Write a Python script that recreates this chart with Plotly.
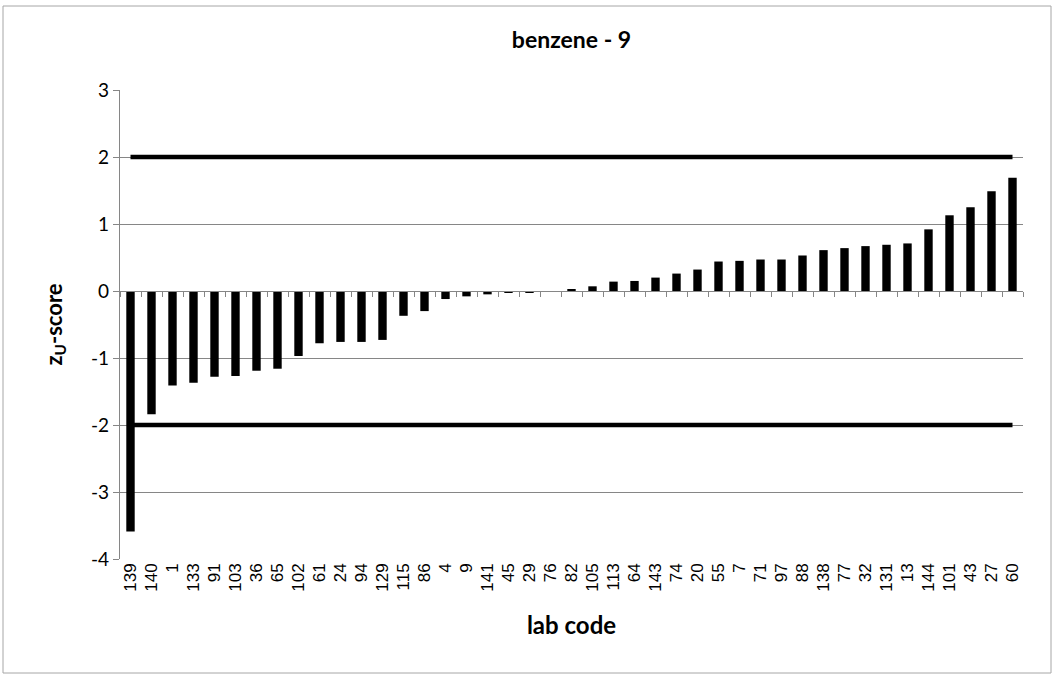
import plotly.graph_objects as go

lab_codes = ["139", "140", "1", "133", "91", "103", "36", "65", "102", "61", "24", "94",
             "129", "115", "86", "4", "9", "141", "45", "29", "76", "82", "105", "113",
             "64", "143", "74", "20", "55", "7", "71", "97", "88", "138", "77", "32",
             "131", "13", "144", "101", "43", "27", "60"]
z_scores = [-3.59, -1.84, -1.41, -1.37, -1.28, -1.27, -1.19, -1.16, -0.97, -0.78, -0.76, -0.76,
            -0.73, -0.37, -0.30, -0.12, -0.08, -0.05, -0.03, -0.02, -0.01, 0.03, 0.07, 0.14,
            0.15, 0.20, 0.26, 0.32, 0.44, 0.45, 0.47, 0.47, 0.53, 0.61, 0.64, 0.67,
            0.69, 0.71, 0.92, 1.13, 1.25, 1.49, 1.69]
upper_limit = 2
lower_limit = -2
y_ticks = [-4, -3, -2, -1, 0, 1, 2, 3]
y_tick_labels = ["-4", "-3", "-2", "-1", "0", "1", "2", "3"]

GRAY = "#868686"
FONT = "Lato"

fig = go.Figure()
fig.add_trace(go.Bar(x=lab_codes, y=z_scores, marker=dict(color="black", line=dict(width=0)),
                     width=0.4, xaxis="x", yaxis="y", showlegend=False))
for lim in (upper_limit, lower_limit):
    fig.add_trace(go.Scatter(x=lab_codes, y=[lim] * len(lab_codes), mode="lines",
                             line=dict(color="black", width=4.5), xaxis="x2", yaxis="y",
                             showlegend=False, hoverinfo="skip"))

n = len(lab_codes)
fig.update_layout(
    width=1055, height=675,
    paper_bgcolor="white", plot_bgcolor="white",
    margin=dict(l=120, r=32, t=90, b=116),
    title=dict(text="<b>benzene - 9</b>", x=0.5, xref="paper", y=1 - 40 / 675, yanchor="middle",
               font=dict(family=FONT, size=23, color="black")),
    xaxis=dict(type="category", range=[-0.5, n - 0.5], showgrid=False, showline=False,
               ticks="", tickangle=-90, tickfont=dict(family="Liberation Sans", size=17, color="black"),
               title=dict(text="<b>lab code</b>", font=dict(family=FONT, size=24, color="black"),
                          standoff=26)),
    xaxis2=dict(type="category", range=[-0.5, n - 0.5], overlaying="x", anchor="free",
                position=4 / 7, showgrid=False, showline=True, linecolor=GRAY, linewidth=1.3,
                ticks="outside", tickson="boundaries", ticklen=5, tickcolor=GRAY, tickwidth=1.3,
                showticklabels=False),
    yaxis=dict(range=[-4, 3], tickvals=y_ticks, ticktext=y_tick_labels, showgrid=True,
               gridcolor=GRAY, gridwidth=1,
               zeroline=False, showline=True, linecolor=GRAY, linewidth=1.3,
               ticks="outside", ticklen=6, tickcolor=GRAY, tickwidth=1.3,
               tickfont=dict(family=FONT, size=19, color="black"),
               title=dict(text="<b>z<sub>U</sub>-score</b>", font=dict(family=FONT, size=22, color="black"),
                          standoff=22)),
    shapes=[dict(type="rect", xref="paper", yref="paper",
                 x0=(3 - 120) / 903, x1=(1051 - 120) / 903,
                 y0=(559 - 673) / 469, y1=(559 - 6) / 469,
                 line=dict(color="#a6a6a6", width=1), fillcolor="rgba(0,0,0,0)", layer="below")],
)

fig.write_html("out.html", config={"displayModeBar": False},
               post_script="document.body.style.margin='0';")
